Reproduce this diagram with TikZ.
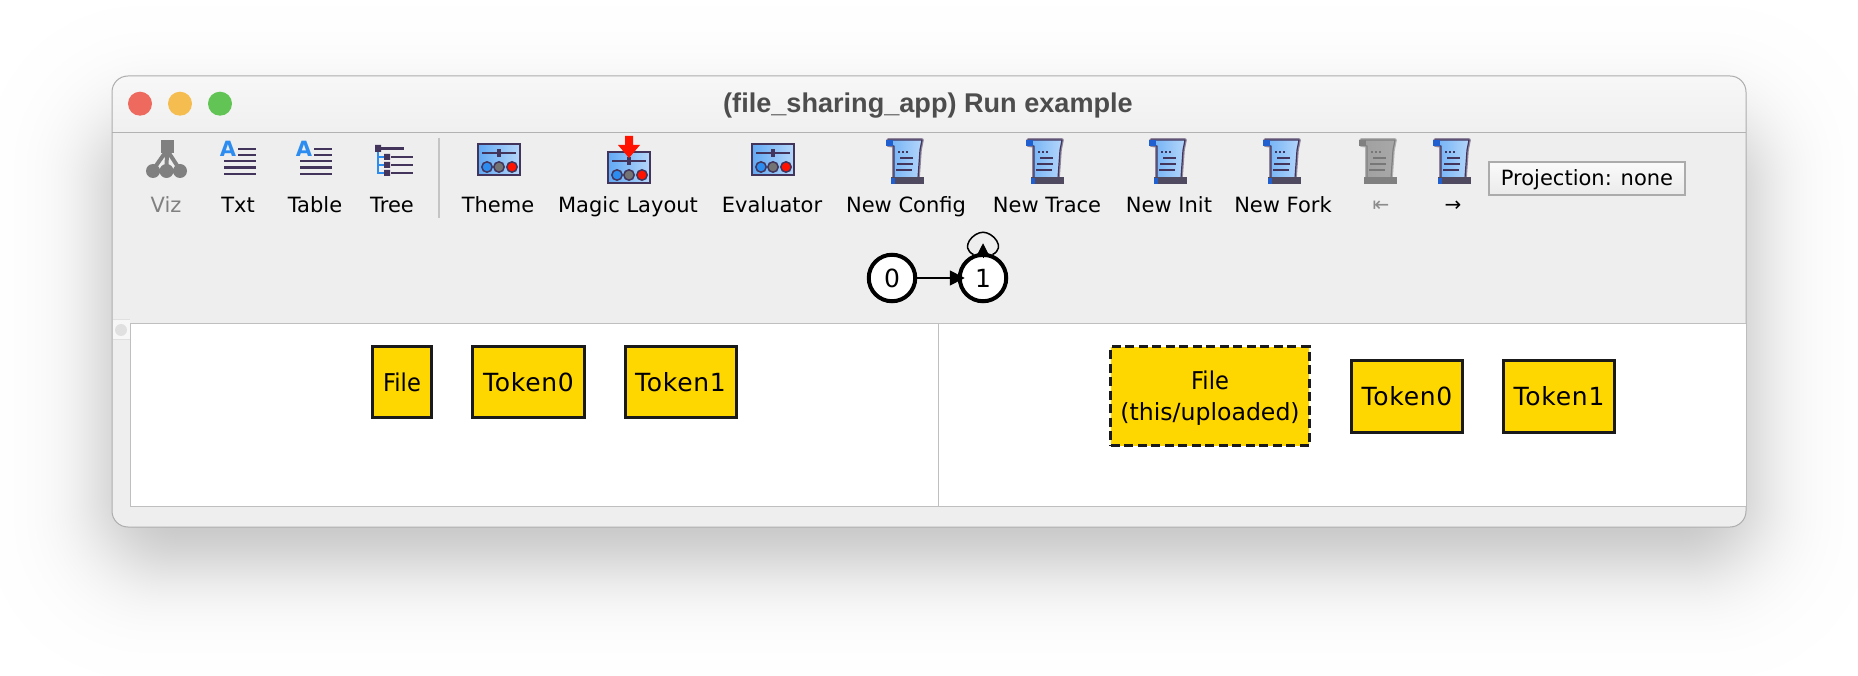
\documentclass[tikz,border=0pt]{standalone}
\usepackage{fontspec}
\setmainfont{DejaVu Sans}
\newfontfamily\titlefont{Liberation Sans}
\usetikzlibrary{arrows.meta,shapes.geometric}
\definecolor{winbg}{HTML}{EEEEEE}
\definecolor{sepgray}{HTML}{C4C4C4}
\definecolor{icondark}{HTML}{43345C}
\definecolor{iconblue}{HTML}{2D8CF0}
\definecolor{gold}{HTML}{FFD700}
\definecolor{boxedge}{HTML}{1A1A1A}
\definecolor{scrollA}{HTML}{6FB0F5}
\definecolor{scrollB}{HTML}{B4D6FA}
\definecolor{scrollcurl}{HTML}{1F5FD0}
\definecolor{scrollbar}{HTML}{4F4A60}
\definecolor{grayA}{HTML}{A0A0A0}
\definecolor{grayB}{HTML}{A8A8A8}
\definecolor{grayedge}{HTML}{808080}
\definecolor{grayline}{HTML}{777777}
\definecolor{tlred}{HTML}{EE6A5F}
\definecolor{tlyellow}{HTML}{F5BD4F}
\definecolor{tlgreen}{HTML}{61C454}
\definecolor{titlegray}{HTML}{4D4D4D}
\newcommand{\fileword}{{\fontsize{24.5}{31}\selectfont\scalebox{0.92}[1]{File}}}
\tikzset{
  x=1pt,y=-1pt,
  toollabel/.style={inner sep=0pt,anchor=base,font=\fontsize{21}{25}\selectfont,text=black},
  boxtext/.style={font=\fontsize{23.6}{31}\selectfont,align=center},
  sigbox/.style={draw=boxedge,line width=3pt,fill=gold,inner sep=0pt,boxtext},
  tokentext/.style={font=\fontsize{25}{31}\selectfont\addfontfeature{LetterSpace=3}},
  dashbox/.style={sigbox,dash pattern=on 9pt off 4.5pt},
  statenode/.style={circle,draw=black,fill=white,line width=4pt,minimum size=46.5pt,inner sep=0pt,font=\fontsize{25}{29}\selectfont},
  graphedge/.style={draw=black,line width=1.7pt}
}
% slider icon: #1,#2 = top-left corner
\newcommand{\slidericon}[2]{%
  \begin{scope}[shift={(#1,#2)}]
    \shade[left color=iconblue!75,right color=iconblue!35] (0,0) rectangle (42,31);
    \draw[icondark,line width=2pt] (0,0) rectangle (42,31);
    \draw[icondark,line width=1.6pt] (4,9) -- (38,9);
    \fill[icondark] (19,5) rectangle (23,13);
    \draw[icondark,line width=1.5pt,fill=iconblue] (9,23) circle (5.2);
    \draw[icondark,line width=1.5pt,fill=black!55] (21,23) circle (5.2);
    \draw[icondark,line width=1.5pt,fill=red!85!orange] (34,23) circle (5.2);
  \end{scope}}
% scroll icon: #1 = left edge, #2 #3 = body colours, #4 = edge, #5 = text lines, #6 = curl, #7 = bar
\newcommand{\scrollicon}[7]{%
  \begin{scope}[shift={(#1,138)}]
    \draw[#4,opacity=.55,line width=3.6pt,line join=round] (3,2) -- (37,2) -- (35,12) -- (33,40) -- (9,40) -- (9,8) -- (3,7) -- cycle;
    \shade[left color=#2,right color=#3] (3,2) -- (37,2) -- (35,12) -- (33,40) -- (9,40) -- (9,8) -- (3,7) -- cycle;
    \draw[#4,line width=1.2pt,line join=round] (3,2) -- (37,2) -- (35,12) -- (33,40) -- (9,40) -- (9,8) -- (3,7) -- cycle;
    \fill[#6] (1,2) rectangle (8,8);
    \fill[#7] (6,39) rectangle (39,46);
    \fill[#6] (6,40) rectangle (10,46);
    \draw[#5,line width=1.8pt] (15,20) -- (28,20) (12,26) -- (28,26) (11,32) -- (27,32);
    \draw[#5,line width=1.4pt,dash pattern=on 2pt off 2pt] (13,14) -- (23,14);
  \end{scope}}
\begin{document}
\begin{tikzpicture}
\useasboundingbox (0,0) rectangle (1858,676);
\fill[white] (0,0) rectangle (1858,676);
% window shadow: stacked rectangles with a bell-shaped spread
\foreach \i in {1,...,64}{
  \pgfmathsetmacro{\p}{(\i-0.5)/64}
  \pgfmathsetmacro{\e}{40*ln(\p/(1-\p))/1.7}
  \pgfmathsetmacro{\xa}{102-\e}\pgfmathsetmacro{\ya}{120-\e}
  \pgfmathsetmacro{\xb}{1756+\e}\pgfmathsetmacro{\yb}{565+\e}
  \pgfmathsetmacro{\rr}{16+max(0,\e+80)*0.7}
  \fill[black,opacity=.0058,rounded corners=\rr pt] (\xa,\ya) rectangle (\xb,\yb);
}
% window
\fill[winbg,rounded corners=16pt] (112,76) rectangle (1746,527);
\begin{scope}
  \clip[rounded corners=16pt] (112,76) rectangle (1746,527);
  \shade[top color=white!97!black,bottom color=white!94!black] (112,76) rectangle (1746,132);
\end{scope}
\draw[black!30,line width=1pt] (112,132.5) -- (1746,132.5);
\draw[black!32,line width=1pt,rounded corners=16pt] (112,76) rectangle (1746,527);
% traffic lights
\fill[tlred] (140,103.7) circle (12);
\fill[tlyellow] (180,103.7) circle (12);
\fill[tlgreen] (220,103.7) circle (12);
\node[inner sep=0pt,text=titlegray,font=\titlefont\bfseries\fontsize{27.1}{32}\selectfont] (title) at (928,106) {(file\_sharing\_app) Run example};
% toolbar labels
\node[toollabel,text=black!50] (lviz) at (166,213) {Viz};
\node[toollabel] (ltxt) at (238,213) {Txt};
\node[toollabel] (ltable) at (315,213) {Table};
\node[toollabel] (ltree) at (392,213) {Tree};
\draw[sepgray,line width=2pt] (439,138) -- (439,218);
\node[toollabel] (ltheme) at (498,213) {Theme};
\node[toollabel] (lmagic) at (628,213) {Magic Layout};
\node[toollabel] (leval) at (772,213) {Evaluator};
\node[toollabel] (lconfig) at (906,213) {New Config};
\node[toollabel] (ltrace) at (1047,213) {New Trace};
\node[toollabel] (linit) at (1169,213) {New Init};
\node[toollabel] (lfork) at (1283,213) {New Fork};
\node[toollabel,text=black!45,font=\fontsize{20}{24}\selectfont] (lfirst) at (1381,212) {⇤};
\node[toollabel,font=\fontsize{20}{24}\selectfont] (lnext) at (1453,212) {→};
\node[draw=black!33,line width=2pt,top color=white!98!black,bottom color=white!92!black,minimum width=196pt,minimum height=33pt,inner sep=0pt,text height=20pt,text depth=5pt,font=\fontsize{21}{25}\selectfont] (proj) at (1587,178.5) {Projection: none};
% Viz icon
\begin{scope}[black!50]
  \fill (161,140) rectangle (174,153);
  \draw[line width=4pt] (167,150) -- (153,170) (167,150) -- (166.5,170) (167,150) -- (180,170);
  \fill (153,171) circle (7) (166.5,171) circle (7) (180,171) circle (7);
\end{scope}
% Txt and Table icons
\foreach \dx in {0,76}{
  \begin{scope}[xshift=\dx pt]
    \node[inner sep=0pt,text=iconblue,font=\bfseries\fontsize{21}{24}\selectfont] (iconA\dx) at (228,149) {A};
    \draw[icondark,line width=2.6pt] (238,149) -- (256,149) (238,155) -- (256,155)
      (224,161) -- (256,161) (224,167.5) -- (256,167.5) (224,174) -- (256,174);
  \end{scope}
}
% Tree icon
\draw[iconblue,line width=2.6pt] (378,150) -- (378,173) -- (387,173) (378,157) -- (387,157) (378,165) -- (387,165);
\fill[icondark] (375,145) rectangle (381,152) (384,154) rectangle (390,160) (384,162) rectangle (390,168) (384,170) rectangle (390,176);
\draw[icondark,line width=2.2pt] (381,148.5) -- (404,148.5) (391,157) -- (413,157) (391,165) -- (413,165) (391,173) -- (413,173);
% Slider icons
\slidericon{478}{144}
\slidericon{608}{152}
\slidericon{752}{144}
\fill[red!85!orange] (625,136) -- (633,136) -- (633,145) -- (640,145) -- (629,158) -- (618,145) -- (625,145) -- cycle;
% Scroll icons
\scrollicon{885}{scrollA}{scrollB}{icondark}{icondark}{scrollcurl}{scrollbar}
\scrollicon{1025}{scrollA}{scrollB}{icondark}{icondark}{scrollcurl}{scrollbar}
\scrollicon{1148}{scrollA}{scrollB}{icondark}{icondark}{scrollcurl}{scrollbar}
\scrollicon{1262}{scrollA}{scrollB}{icondark}{icondark}{scrollcurl}{scrollbar}
\scrollicon{1358}{grayA}{grayB}{grayedge}{grayline}{grayedge}{grayedge}
\scrollicon{1432}{scrollA}{scrollB}{icondark}{icondark}{scrollcurl}{scrollbar}
% state graph
\node[statenode] (n0) at (892,278) {0};
\node[statenode] (n1) at (983,278) {1};
\draw[graphedge,-{Triangle[length=15pt,width=15pt]},shorten >=-7pt] (n0) -- (n1);
\coordinate (looptop) at ([yshift=20.5pt]n1.north);
\draw[graphedge,line width=1.5pt] (n1.112) .. controls +(-14,-7) and +(-10,0) .. (looptop) .. controls +(10,0) and +(14,-7) .. (n1.68);
\draw[graphedge,line width=1pt,-{Triangle[length=14pt,width=14pt]}] ([yshift=-4.5pt]n1.north) -- ([yshift=9.5pt]n1.north);
% panels
\fill[white] (130,324) rectangle (1746,506.5);
\draw[black!25,line width=1pt] (130,506.5) -- (130,324) -- (1746,324);
\draw[black!25,line width=1pt] (130,506.5) -- (1746,506.5);
\draw[black!25,line width=1pt] (938.5,324) -- (938.5,506.5);
\fill[white!97!black] (113,320) rectangle (130,339);
\draw[black!12,line width=1pt] (113,320) -- (130,320) (113,339) -- (130,339);
\fill[black!12] (121,330) circle (6);
% atoms, left
\node[sigbox,minimum width=58.5pt,minimum height=71pt] (fileL) at (402,382) {\fileword};
\node[sigbox,tokentext,minimum width=112pt,minimum height=71pt] (tok0L) at (528.5,382) {Token0};
\node[sigbox,tokentext,minimum width=111pt,minimum height=71pt] (tok1L) at (680.5,382) {Token1};
% atoms, right
\node[dashbox,minimum width=198.5pt,minimum height=99pt] (fileR) at (1210,396) {\rule{0pt}{23pt}\fileword\\(this/uploaded)};
\node[sigbox,tokentext,minimum width=111pt,minimum height=72pt] (tok0R) at (1407,396.5) {Token0};
\node[sigbox,tokentext,minimum width=111pt,minimum height=72pt] (tok1R) at (1559,396.5) {Token1};
\end{tikzpicture}
\end{document}
